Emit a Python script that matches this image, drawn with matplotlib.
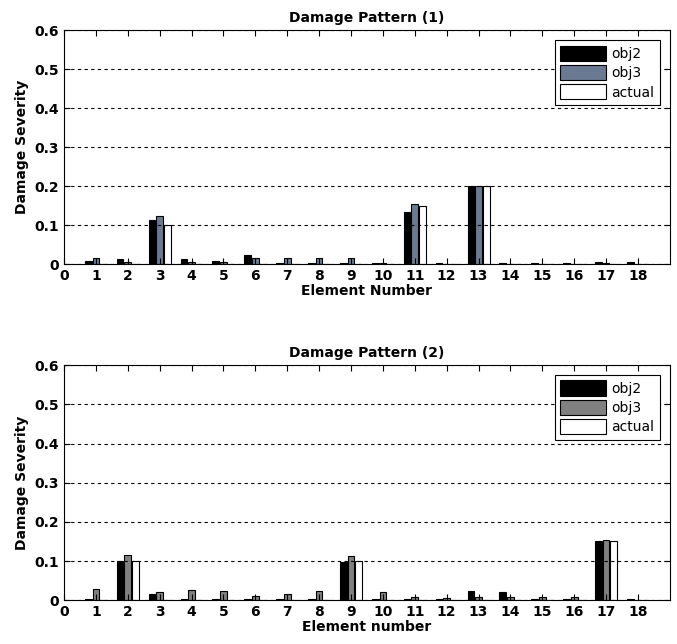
import numpy as np
import matplotlib
matplotlib.use("Agg")
import matplotlib.pyplot as plt

plt.rcParams['font.family'] = ['DejaVu Sans']
plt.rcParams['font.weight'] = 'bold'

elements = np.arange(1, 19)

# Damage pattern (1)
obj2_1 = [0.008, 0.012, 0.112, 0.012, 0.009, 0.024, 0.003, 0.003, 0.003,
          0.002, 0.133, 0.002, 0.200, 0.002, 0.002, 0.002, 0.006, 0.006]
obj3_1 = [0.015, 0.005, 0.123, 0.005, 0.006, 0.015, 0.015, 0.015, 0.015,
          0.002, 0.154, 0.001, 0.200, 0.001, 0.001, 0.001, 0.002, 0.001]
actual_1 = [0, 0, 0.10, 0, 0, 0, 0, 0, 0, 0, 0.15, 0, 0.20, 0, 0, 0, 0, 0]

# Damage pattern (2)
obj2_2 = [0.003, 0.100, 0.015, 0.003, 0.003, 0.003, 0.003, 0.003, 0.098,
          0.003, 0.003, 0.003, 0.024, 0.021, 0.002, 0.002, 0.150, 0.003]
obj3_2 = [0.028, 0.116, 0.020, 0.027, 0.023, 0.011, 0.015, 0.023, 0.112,
          0.020, 0.008, 0.005, 0.009, 0.008, 0.008, 0.009, 0.153, 0.001]
actual_2 = [0, 0.10, 0, 0, 0, 0, 0, 0, 0.10, 0, 0, 0, 0, 0, 0, 0, 0.15, 0]

fig = plt.figure(figsize=(6.77, 6.44), dpi=100)
ax1 = fig.add_axes([0.0945, 0.590, 0.895, 0.363])
ax2 = fig.add_axes([0.0945, 0.068, 0.895, 0.365])


def draw(ax, s1, s2, s3, c3, title, xlabel):
    w = 0.21
    ax.bar(elements - 0.24, s1, w, color='black', edgecolor='black', lw=0.8, label='obj2')
    ax.bar(elements, s2, w, color=c3, edgecolor='black', lw=0.8, label='obj3')
    ax.bar(elements + 0.24, s3, w, color='white', edgecolor='black', lw=0.8, label='actual')
    ax.set_xlim(0, 19)
    ax.set_ylim(0, 0.6)
    ax.set_xticks(np.arange(0, 19))
    ax.set_yticks([0, 0.1, 0.2, 0.3, 0.4, 0.5, 0.6])
    ax.set_yticklabels(['0', '0.1', '0.2', '0.3', '0.4', '0.5', '0.6'])
    ax.yaxis.grid(True, linestyle=(0, (3, 3)), color='black', lw=0.8)
    ax.set_axisbelow(False)
    ax.tick_params(direction='in', top=True, right=True, labelsize=10, length=4, width=0.8)
    for sp in ax.spines.values():
        sp.set_linewidth(0.8)
    ax.set_title(title, fontsize=10, fontweight='bold', pad=6)
    ax.set_xlabel(xlabel, fontsize=10, fontweight='bold', labelpad=1)
    ax.set_ylabel('Damage Severity', fontsize=10, fontweight='bold', labelpad=4)
    leg = ax.legend(loc='upper right', fontsize=10, frameon=True, fancybox=False,
                    edgecolor='black', framealpha=1, handlelength=3.3, handleheight=1.3,
                    borderaxespad=0.7, labelspacing=0.3, handletextpad=0.4)
    leg.get_frame().set_linewidth(0.8)
    for t in leg.get_texts():
        t.set_fontweight('normal')


draw(ax1, obj2_1, obj3_1, actual_1, '#6b7a93', 'Damage Pattern (1)', 'Element Number')
draw(ax2, obj2_2, obj3_2, actual_2, '#808080', 'Damage Pattern (2)', 'Element number')

fig.savefig('out.png', dpi=100)
